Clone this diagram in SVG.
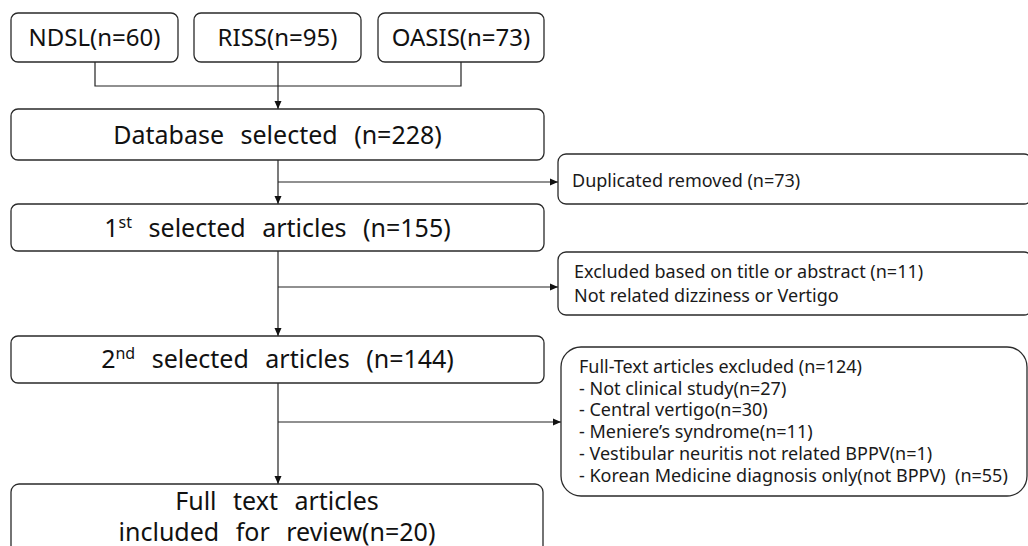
<svg xmlns="http://www.w3.org/2000/svg" width="1028" height="546" viewBox="0 0 1028 546">
<style>
.box{fill:#fff;stroke:#2a2a2a;stroke-width:1.3}
.main{font-family:"Noto Sans","Open Sans","Liberation Sans",sans-serif;font-size:25px;fill:#111;text-anchor:middle;word-spacing:10px}
.top{font-family:"Noto Sans","Open Sans","Liberation Sans",sans-serif;font-size:24px;fill:#111;text-anchor:middle}
.side{font-family:"Noto Sans","Open Sans","Liberation Sans",sans-serif;font-size:18px;fill:#1a1a1a}
.con{fill:none;stroke:#222;stroke-width:1.2}
</style>
<defs>
<marker id="ah" markerWidth="10" markerHeight="10" refX="9" refY="5" orient="auto" markerUnits="userSpaceOnUse">
<path d="M1,1.5 L9,5 L1,8.5 Z" fill="#111"/>
</marker>
</defs>
<rect width="1028" height="546" fill="#fff"/>
<g id="connectors">
<path class="con" d="M95,62 V86 H461 V62"/>
<path class="con" d="M278,62 V109" marker-end="url(#ah)"/>
<path class="con" d="M278,160 V204" marker-end="url(#ah)"/>
<path class="con" d="M278,182 H558" marker-end="url(#ah)"/>
<path class="con" d="M278,251 V336" marker-end="url(#ah)"/>
<path class="con" d="M278,287 H558" marker-end="url(#ah)"/>
<path class="con" d="M278,383 V484" marker-end="url(#ah)"/>
<path class="con" d="M278,422 H561" marker-end="url(#ah)"/>
</g>
<g id="ndsl">
<rect class="box" x="11" y="13" width="167" height="49" rx="7"/>
<text class="top" x="94.5" y="46">NDSL(n=60)</text>
</g>
<g id="riss">
<rect class="box" x="194" y="13" width="167" height="49" rx="7"/>
<text class="top" x="277.5" y="46">RISS(n=95)</text>
</g>
<g id="oasis">
<rect class="box" x="378" y="13" width="166" height="49" rx="7"/>
<text class="top" x="461" y="46">OASIS(n=73)</text>
</g>
<g id="database">
<rect class="box" x="11" y="109" width="533" height="51" rx="7"/>
<text class="main" x="277.5" y="144">Database selected (n=228)</text>
</g>
<g id="duplicated">
<rect class="box" x="558" y="154" width="474" height="50" rx="8"/>
<text class="side" x="572" y="187">Duplicated removed (n=73)</text>
</g>
<g id="first">
<rect class="box" x="11" y="204" width="533" height="47" rx="7"/>
<text class="main" x="277.5" y="237">1<tspan font-size="16" dy="-9">st</tspan><tspan dy="9"> selected articles (n=155)</tspan></text>
</g>
<g id="excluded">
<rect class="box" x="558" y="252" width="474" height="63" rx="8"/>
<text class="side" x="574" y="278">Excluded based on title or abstract (n=11)</text>
<text class="side" x="574" y="302">Not related dizziness or Vertigo</text>
</g>
<g id="second">
<rect class="box" x="11" y="336" width="533" height="47" rx="7"/>
<text class="main" x="277.5" y="368">2<tspan font-size="16" dy="-9">nd</tspan><tspan dy="9"> selected articles (n=144)</tspan></text>
</g>
<g id="fulltext-excluded">
<rect class="box" x="561" y="347" width="466" height="149" rx="20"/>
<text class="side" x="579" y="373">Full-Text articles excluded (n=124)</text>
<text class="side" x="579" y="394.7">- Not clinical study(n=27)</text>
<text class="side" x="579" y="416.4">- Central vertigo(n=30)</text>
<text class="side" x="579" y="438.1">- Meniere’s syndrome(n=11)</text>
<text class="side" x="579" y="459.8">- Vestibular neuritis not related BPPV(n=1)</text>
<text class="side" x="579" y="481.5">- Korean Medicine diagnosis only(not BPPV)&#160; (n=55)</text>
</g>
<g id="included">
<rect class="box" x="11" y="484" width="532" height="70" rx="8"/>
<text class="main" x="277" y="510">Full text articles</text>
<text class="main" x="277" y="541">included for review(n=20)</text>
</g>
</svg>
